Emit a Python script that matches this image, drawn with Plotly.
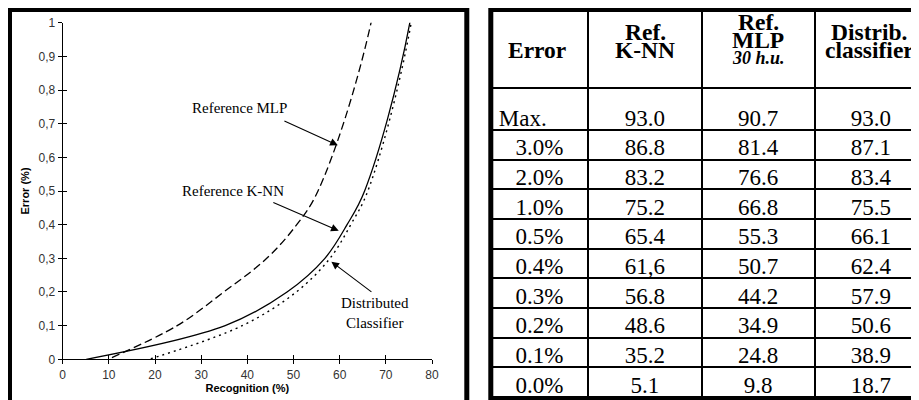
import plotly.graph_objects as go

W, H = 919, 400
OFF = 8  # the page body places the figure 8 px from the window's top-left corner

# ---------------- data ----------------
error_labels = ["3.0%", "2.0%", "1.0%", "0.5%", "0.4%", "0.3%", "0.2%", "0.1%", "0.0%"]
error_pct = [3.0, 2.0, 1.0, 0.5, 0.4, 0.3, 0.2, 0.1, 0.0]
knn = [86.8, 83.2, 75.2, 65.4, 61.6, 56.8, 48.6, 35.2, 5.1]
mlp = [81.4, 76.6, 66.8, 55.3, 50.7, 44.2, 34.9, 24.8, 9.8]
dist = [87.1, 83.4, 75.5, 66.1, 62.4, 57.9, 50.6, 38.9, 18.7]
max_label = "Max."
max_knn, max_mlp, max_dist = 93.0, 90.7, 93.0

header_lines = [
    ["Error"],
    ["Ref.", "K-NN"],
    ["Ref.", "MLP", "<i>30 h.u.</i>"],
    ["Distrib.", "classifier"],
]

x_ticks = [0, 10, 20, 30, 40, 50, 60, 70, 80]


def fmt(v):
    return f"{v:.1f}"


knn_text = [fmt(v) for v in knn]
knn_text[4] = "61,6"  # printed this way in the source table
mlp_text = [fmt(v) for v in mlp]
dist_text = [fmt(v) for v in dist]


# ---------------- geometry helpers (window pixels -> paper) ----------------
def px(x):
    return (x - OFF) / W


def py(y):
    return 1 - (y - OFF) / H


SANS = "Liberation Sans, Arial, sans-serif"
SERIF = "Liberation Serif, Times New Roman, serif"

fig = go.Figure()

# ---------------- curves ----------------
line_specs = [
    ("Reference K-NN", knn, dict(color="black", width=1.3, dash="solid")),
    ("Reference MLP", mlp, dict(color="black", width=1.3, dash="8px,4px")),
    ("Distributed classifier", dist, dict(color="black", width=1.4, dash="2px,4px")),
]
for i, (name, xs, ln) in enumerate(line_specs):
    fig.add_trace(go.Scatter(
        x=xs, y=error_pct, mode="lines", name=name,
        line=dict(shape="spline", smoothing=1.0, **ln),
        xaxis="x2" if i == 2 else "x", yaxis="y2" if i == 2 else "y",
        showlegend=False, hoverinfo="skip",
    ))

# ---------------- tables ----------------
tbl_left = 490.8
col_edges = [tbl_left, 588.3, 701.7, 815.0, W + OFF]
col_w = [col_edges[i + 1] - col_edges[i] for i in range(4)]
tbl_x = [px(tbl_left), 1.0]

hdr_bottom = 88.3
max_bottom = 130.0
body_row_h = (397.0 - max_bottom) / len(error_labels)
TXT = dict(family=SERIF, size=23, color="black")
GRID = dict(color="black", width=2)

# grid for header + max row
fig.add_trace(go.Table(
    domain=dict(x=tbl_x, y=[0, 1]),
    columnwidth=col_w,
    header=dict(values=["", "", "", ""], height=hdr_bottom - OFF,
                line=GRID, fill=dict(color="white")),
    cells=dict(values=[[""], [""], [""], [""]], height=max_bottom - hdr_bottom,
               line=GRID, fill=dict(color="white")),
))
# body rows (first row carried by the header slot)
fig.add_trace(go.Table(
    domain=dict(x=tbl_x, y=[0, py(max_bottom)]),
    columnwidth=col_w,
    header=dict(values=[error_labels[0], knn_text[0], mlp_text[0], dist_text[0]],
                height=body_row_h, align="center", line=GRID,
                fill=dict(color="white"), font=TXT),
    cells=dict(values=[error_labels[1:], knn_text[1:], mlp_text[1:], dist_text[1:]],
               height=body_row_h, align="center",
               line=GRID, fill=dict(color="white"), font=TXT),
))
# max row text (transparent overlay)
fig.add_trace(go.Table(
    domain=dict(x=tbl_x, y=[0, py(hdr_bottom + 12)]),
    columnwidth=col_w,
    header=dict(values=[max_label, fmt(max_knn), fmt(max_mlp), fmt(max_dist)],
                height=max_bottom - hdr_bottom - 12,
                align=["left", "center", "center", "center"],
                line=dict(color="rgba(0,0,0,0)", width=0),
                fill=dict(color="rgba(0,0,0,0)"), font=TXT),
    cells=dict(values=[[""], [""], [""], [""]], height=1,
               line=dict(color="rgba(0,0,0,0)", width=0),
               fill=dict(color="rgba(0,0,0,0)")),
))

# header text
col_centers = [537, 645, 758.3, 869]
line_y = {1: [50], 2: [31.7, 50], 3: [21.7, 40, 58.3]}
annotations = []
for c, lines in enumerate(header_lines):
    for j, t in enumerate(lines):
        italic = t.startswith("<i>")
        annotations.append(dict(
            xref="paper", yref="paper", x=px(col_centers[c]), y=py(line_y[len(lines)][j]),
            xanchor="center", yanchor="middle", showarrow=False,
            text=f"<b>{t}</b>",
            font=dict(family=SERIF, size=18 if italic else 23.5, color="black"),
        ))

# ---------------- chart labels & arrows ----------------
chart_labels = [
    ("Reference MLP", 38.4, 0.748, 47.7, 0.71, 59.6, 0.636),
    ("Reference K-NN", 36.9, 0.50, 45.3, 0.468, 59.8, 0.382),
    ("Distributed<br>Classifier", 67.6, 0.137, 67.2, 0.197, 58.2, 0.29),
]
for text, tx, ty, ax_, ay_, hx, hy in chart_labels:
    annotations.append(dict(
        x=tx, y=ty, xref="x", yref="y", text=text, showarrow=False,
        xanchor="center", yanchor="middle",
        font=dict(family=SERIF, size=15, color="black"),
    ))
    annotations.append(dict(
        x=hx, y=hy, xref="x", yref="y", ax=ax_, ay=ay_, axref="x", ayref="y",
        text="", showarrow=True, arrowhead=2, arrowsize=1.4, arrowwidth=1.1,
        arrowcolor="black",
    ))

# ---------------- frames ----------------
shapes = [
    dict(type="rect", xref="paper", yref="paper",
         x0=px(9.5), x1=px(466.8), y0=-0.05, y1=py(9.5),
         line=dict(color="black", width=5), layer="above"),
    dict(type="rect", xref="paper", yref="paper",
         x0=px(tbl_left), x1=1.05, y0=py(399.5), y1=py(9.5),
         line=dict(color="black", width=5), layer="above"),
]

xdom = [px(62.7), px(432.0)]
ydom = [py(359.3), py(22.7)]
axis_common = dict(showgrid=False, zeroline=False, automargin=False, fixedrange=True)

fig.update_layout(
    width=W, height=H,
    margin=dict(l=0, r=0, t=0, b=0),
    paper_bgcolor="white", plot_bgcolor="white",
    template="none",
    separators=",.",
    xaxis=dict(domain=xdom, range=[0, 80], tickvals=x_ticks, ticks="outside",
               ticklen=4, tickwidth=1, tickcolor="black",
               showline=True, linecolor="black", linewidth=1.3,
               tickfont=dict(family=SANS, size=12, color="#333"),
               title=dict(text="<b>Recognition (%)</b>", standoff=2,
                          font=dict(family=SANS, size=11, color="black")),
               anchor="y", **axis_common),
    yaxis=dict(domain=ydom, range=[0, 1], tick0=0, dtick=0.1, ticks="outside",
               ticklen=4, tickwidth=1, tickcolor="black",
               showline=True, linecolor="black", linewidth=1.3,
               tickfont=dict(family=SANS, size=12, color="#333"),
               title=dict(text="<b>Error (%)</b>", standoff=6,
                          font=dict(family=SANS, size=11, color="black")),
               anchor="x", **axis_common),
    xaxis2=dict(domain=xdom, range=[0, 80], tickvals=x_ticks, ticks="inside",
                ticklen=4, tickwidth=1, tickcolor="black", showticklabels=False,
                showline=False, overlaying="x", anchor="y2", **axis_common),
    yaxis2=dict(domain=ydom, range=[0, 1], tick0=0, dtick=0.1, ticks="inside",
                ticklen=4, tickwidth=1, tickcolor="black", showticklabels=False,
                showline=False, overlaying="y", anchor="x2", **axis_common),
    annotations=annotations,
    shapes=shapes,
)

fig.write_html("out.html")
